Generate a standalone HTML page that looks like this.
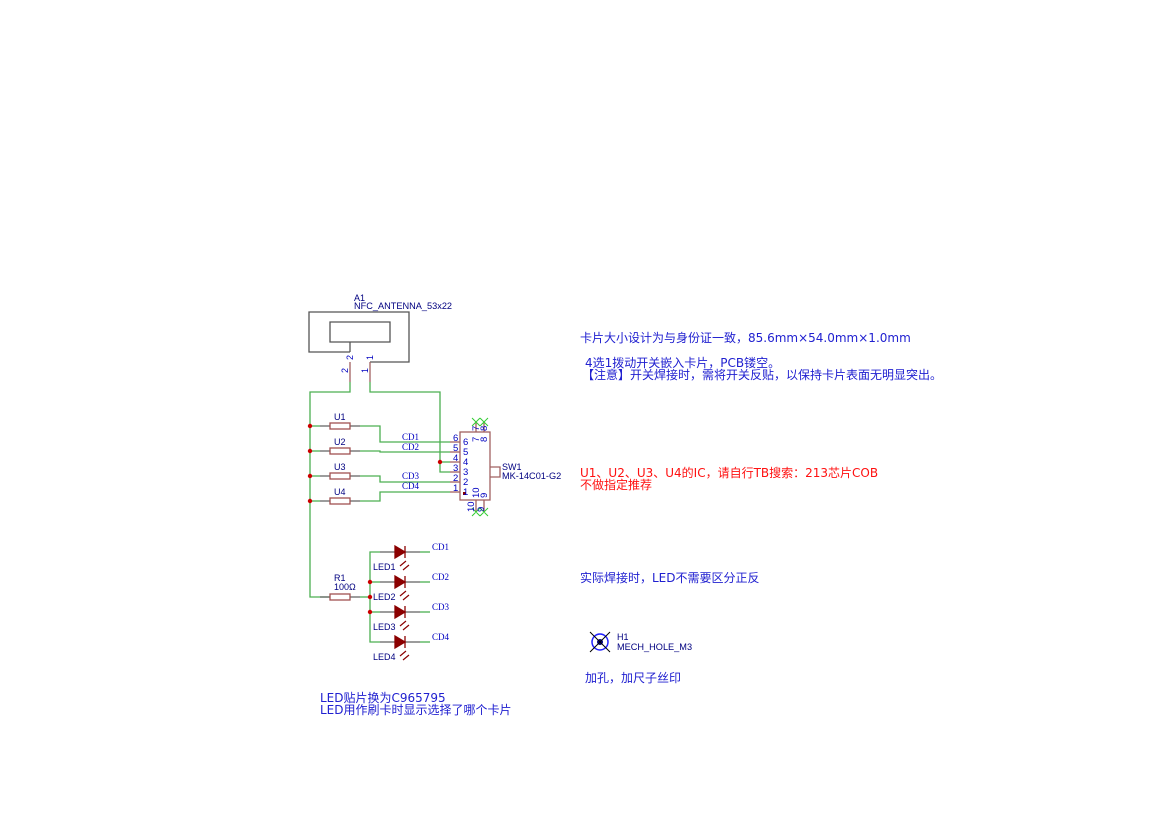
<!DOCTYPE html>
<html><head><meta charset="utf-8"><style>
html,body{margin:0;padding:0;background:#fff;}
svg{display:block;}
text{font-family:"Liberation Sans","Noto Sans CJK SC",sans-serif;}
.n text{font-family:"DejaVu Sans","Noto Sans CJK SC",sans-serif;}
.s{font-family:"Liberation Serif",serif;}
</style></head><body>
<svg width="1169" height="828" viewBox="0 0 1169 828" xmlns="http://www.w3.org/2000/svg">
<g fill="none" stroke="#555" stroke-width="1.3">
<polyline points="350,352 309,352 309,312 409,312 409,362 370,362"/>
<polyline points="350,352 350,342 330,342 330,322 390,322 390,342 350,342"/>
</g>
<g stroke="#a06060" stroke-width="1.3"><line x1="350" y1="362" x2="350" y2="382"/><line x1="370" y1="362" x2="370" y2="382"/></g>
<text x="354" y="301" font-size="9" fill="#000080">A1</text>
<text x="354" y="309" font-size="9.2" fill="#000080">NFC_ANTENNA_53x22</text>
<g font-size="9" fill="#0000c0">
<text transform="translate(353,360) rotate(-90)">2</text>
<text transform="translate(373,360) rotate(-90)">1</text>
<text transform="translate(348,373) rotate(-90)">2</text>
<text transform="translate(368,373) rotate(-90)">1</text>
</g>
<g fill="none" stroke="#4caf50" stroke-width="1.3">
<polyline points="350,382 350,392 310,392 310,597 330,597"/>
<polyline points="370,382 370,392 440,392 440,472 450,472"/>
<line x1="440" y1="462" x2="450" y2="462"/>
<polyline points="360,426 380,426 380,442 450,442"/>
<polyline points="360,451 380,451 380,452 450,452"/>
<polyline points="360,476 380,476 380,482 450,482"/>
<polyline points="360,501 380,501 380,492 450,492"/>
<line x1="310" y1="426" x2="320" y2="426"/><line x1="310" y1="451" x2="320" y2="451"/>
<line x1="310" y1="476" x2="320" y2="476"/><line x1="310" y1="501" x2="320" y2="501"/>
<polyline points="360,597 370,597"/>
<polyline points="380,552 370,552 370,642 380,642"/>
<line x1="370" y1="582" x2="380" y2="582"/><line x1="370" y1="612" x2="380" y2="612"/>
<line x1="420" y1="552" x2="430" y2="552"/><line x1="420" y1="582" x2="430" y2="582"/>
<line x1="420" y1="612" x2="430" y2="612"/><line x1="420" y1="642" x2="430" y2="642"/>
</g>
<g stroke="#666" stroke-width="1.3">
<line x1="320" y1="426" x2="330" y2="426"/><line x1="350" y1="426" x2="360" y2="426"/>
<line x1="320" y1="451" x2="330" y2="451"/><line x1="350" y1="451" x2="360" y2="451"/>
<line x1="320" y1="476" x2="330" y2="476"/><line x1="350" y1="476" x2="360" y2="476"/>
<line x1="320" y1="501" x2="330" y2="501"/><line x1="350" y1="501" x2="360" y2="501"/>
<line x1="320" y1="597" x2="330" y2="597"/><line x1="350" y1="597" x2="360" y2="597"/>
</g>
<g fill="#fff" stroke="#a05050" stroke-width="1.3">
<rect x="330" y="423" width="20" height="6"/><rect x="330" y="448" width="20" height="6"/>
<rect x="330" y="473" width="20" height="6"/><rect x="330" y="498" width="20" height="6"/>
<rect x="330" y="594" width="20" height="6"/>
</g>
<g font-size="9" fill="#000080">
<text x="334" y="420">U1</text><text x="334" y="445">U2</text><text x="334" y="470">U3</text><text x="334" y="495">U4</text>
<text x="334" y="581">R1</text><text x="334" y="590">100Ω</text>
</g>
<g font-size="9" fill="#0000c0">
<text x="402" y="440" class="s">CD1</text><text x="402" y="450" class="s">CD2</text>
<text x="402" y="479" class="s">CD3</text><text x="402" y="489" class="s">CD4</text>
<text x="432" y="550" class="s">CD1</text><text x="432" y="580" class="s">CD2</text>
<text x="432" y="610" class="s">CD3</text><text x="432" y="640" class="s">CD4</text>
</g>
<g stroke="#a06060" stroke-width="1.3" fill="none">
<rect x="460" y="432" width="30" height="68"/>
<polyline points="490,467 500,467 500,477 490,477"/>
<line x1="450" y1="442" x2="460" y2="442"/><line x1="450" y1="452" x2="460" y2="452"/>
<line x1="450" y1="462" x2="460" y2="462"/><line x1="450" y1="472" x2="460" y2="472"/>
<line x1="450" y1="482" x2="460" y2="482"/><line x1="450" y1="492" x2="460" y2="492"/>
<line x1="476" y1="422" x2="476" y2="432"/><line x1="484" y1="422" x2="484" y2="432"/>
<line x1="476" y1="500" x2="476" y2="512"/><line x1="484" y1="500" x2="484" y2="512"/>
</g>
<g stroke="#3c3" stroke-width="1"><path d="M472,418l8,8M480,418l-8,8M480,418l8,8M488,418l-8,8M472,508l8,8M480,508l-8,8M480,508l8,8M488,508l-8,8"/></g>
<rect x="463" y="492" width="3" height="3" fill="#800"/>
<g font-size="9.5" fill="#0000c0">
<text x="453" y="441">6</text><text x="453" y="451">5</text><text x="453" y="461">4</text><text x="453" y="471">3</text><text x="453" y="481">2</text><text x="453" y="491">1</text>
<text x="463" y="445">6</text><text x="463" y="455">5</text><text x="463" y="465">4</text><text x="463" y="475">3</text><text x="463" y="485">2</text><text x="463" y="495">1</text>
<text transform="translate(479,431) rotate(-90)">7</text><text transform="translate(487,431) rotate(-90)">8</text>
<text transform="translate(479,442) rotate(-90)">7</text><text transform="translate(487,442) rotate(-90)">8</text>
<text transform="translate(479,498) rotate(-90)">10</text><text transform="translate(487,498) rotate(-90)">9</text>
<text transform="translate(474,512) rotate(-90)">10</text><text transform="translate(484,512) rotate(-90)">9</text>
</g>
<text x="502" y="470" font-size="9" fill="#000080">SW1</text>
<text x="502" y="479" font-size="9.2" fill="#000080">MK-14C01-G2</text>
<g stroke="#666" stroke-width="1.3">
<line x1="380" y1="552" x2="395" y2="552"/><line x1="405" y1="552" x2="420" y2="552"/>
<line x1="380" y1="582" x2="395" y2="582"/><line x1="405" y1="582" x2="420" y2="582"/>
<line x1="380" y1="612" x2="395" y2="612"/><line x1="405" y1="612" x2="420" y2="612"/>
<line x1="380" y1="642" x2="395" y2="642"/><line x1="405" y1="642" x2="420" y2="642"/>
</g>
<g fill="#8b0000" stroke="#8b0000" stroke-width="1.3">
<path d="M395,546 L405,552 L395,558Z"/><line x1="405" y1="546" x2="405" y2="558"/>
<path d="M395,576 L405,582 L395,588Z"/><line x1="405" y1="576" x2="405" y2="588"/>
<path d="M395,606 L405,612 L395,618Z"/><line x1="405" y1="606" x2="405" y2="618"/>
<path d="M395,636 L405,642 L395,648Z"/><line x1="405" y1="636" x2="405" y2="648"/>
</g>
<g stroke="#8b0000" stroke-width="1.2"><path d="M400,566l6,-5M403,570l6,-5M400,596l6,-5M403,600l6,-5M400,626l6,-5M403,630l6,-5M400,656l6,-5M403,660l6,-5"/></g>
<g font-size="9" fill="#000080">
<text x="373" y="570">LED1</text><text x="373" y="600">LED2</text><text x="373" y="630">LED3</text><text x="373" y="660">LED4</text>
</g>
<g fill="#c00">
<circle cx="310" cy="426" r="2.2"/><circle cx="310" cy="451" r="2.2"/><circle cx="310" cy="476" r="2.2"/><circle cx="310" cy="501" r="2.2"/>
<circle cx="440" cy="462" r="2.2"/>
<circle cx="370" cy="582" r="2.2"/><circle cx="370" cy="597" r="2.2"/><circle cx="370" cy="612" r="2.2"/>
</g>
<circle cx="600" cy="642" r="8" fill="none" stroke="#2020ff" stroke-width="1.5"/>
<circle cx="600" cy="642" r="3" fill="#000080"/>
<path d="M590,632l20,20M610,632l-20,20" stroke="#000" stroke-width="1"/>
<text x="617" y="640" font-size="9" fill="#000080">H1</text>
<text x="617" y="650" font-size="9.2" fill="#000080">MECH_HOLE_M3</text>
<g class="n" font-size="12" fill="#2020d0">
<text x="580" y="342">卡片大小设计为与身份证一致，85.6mm×54.0mm×1.0mm</text>
<text x="585" y="367">4选1拨动开关嵌入卡片，PCB镂空。</text>
<text x="582" y="379">【注意】开关焊接时，需将开关反贴，以保持卡片表面无明显突出。</text>
<text x="580" y="582">实际焊接时，LED不需要区分正反</text>
<text x="585" y="682">加孔，加尺子丝印</text>
<text x="320" y="702">LED贴片换为C965795</text>
<text x="320" y="714">LED用作刷卡时显示选择了哪个卡片</text>
</g>
<g class="n" font-size="12" fill="#ff1010">
<text x="580" y="477">U1、U2、U3、U4的IC，请自行TB搜索：213芯片COB</text>
<text x="580" y="489">不做指定推荐</text>
</g>
</svg>
</body></html>
